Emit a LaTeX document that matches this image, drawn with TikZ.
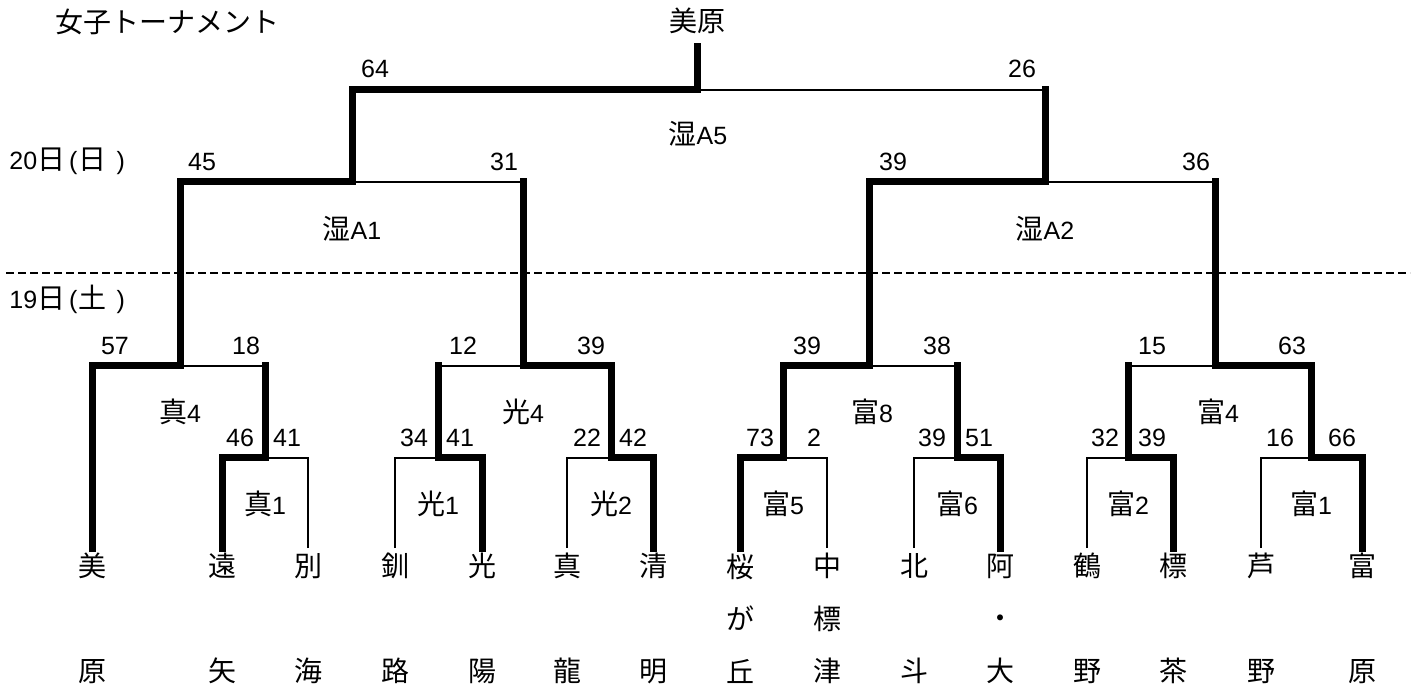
\documentclass[tikz,border=0pt]{standalone}
\usepackage{fontspec}
\setmainfont{Liberation Sans}
\newfontfamily\jp{Noto Sans CJK JP}
\usepackage{tikz}
\newcommand{\jk}[1]{{\jp\fontsize{14}{16}\selectfont #1}}

\begin{document}
\begin{tikzpicture}[x=0.5pt,y=-0.5pt,
  win/.style={black,line width=3.5pt,line cap=rect},
  lose/.style={black,line width=1.35pt},
  team/.style={font=\jp\fontsize{14}{26.25}\selectfont,align=center},
  score/.style={font=\fontsize{12.5}{14}\selectfont},
  game/.style={font=\fontsize{12.5}{14}\selectfont}]
\tikzstyle{every node}+=[inner sep=0pt]
\useasboundingbox (0,0) rectangle (1416,688);
% headings
\node[team] (title) at (167,22) {女子トーナメント};
\node[team] (champ) at (697,21) {美原};
\node[score,anchor=west] (sun) at (9,161) {20\jk{日}\hspace{2pt}(\hspace{0.5pt}\jk{日}\hspace{5pt})};
\node[score,anchor=west] (sat) at (9,299) {19\jk{日}\hspace{2pt}(\hspace{0.5pt}\jk{土}\hspace{5pt})};
\coordinate (dl) at (6,273);
\coordinate (dr) at (1410,273);
\draw [black,line width=0.75pt,dash pattern=on 4pt off 2pt] (dl) -- (dr);
% teams
\foreach \x/\a/\b/\c [count=\i] in {92/美/{}/原, 222/遠/{}/矢, 308/別/{}/海, 395/釧/{}/路,
    482/光/{}/陽, 567/真/{}/龍, 653/清/{}/明, 740/桜/が/丘, 827/中/標/津, 914/北/{}/斗,
    1000/阿/・/大, 1087/鶴/{}/野, 1173/標/{}/茶, 1261/芦/{}/野, 1362/富/{}/原}
{
  \coordinate (l\i) at (\x,548);
  \node[team] (t\i) at (\x,618.5) {\a\\\b\\\c};
}
% junctions
\coordinate (m1) at (265,458);
\coordinate (m2) at (438,458);
\coordinate (m3) at (611,458);
\coordinate (m4) at (783,458);
\coordinate (m5) at (957,458);
\coordinate (m6) at (1128,458);
\coordinate (m7) at (1311,458);
\coordinate (q1) at (180,366);
\coordinate (q2) at (523,366);
\coordinate (q3) at (869,366);
\coordinate (q4) at (1215,366);
\coordinate (s1) at (352,182);
\coordinate (s2) at (1045,182);
\coordinate (f) at (697,90);
\coordinate (top) at (697,47);
% round 1
\draw [win] (l2) |- (m1);
\draw [lose] (l3) |- (m1);
\draw [win] (l5) |- (m2);
\draw [lose] (l4) |- (m2);
\draw [win] (l7) |- (m3);
\draw [lose] (l6) |- (m3);
\draw [win] (l8) |- (m4);
\draw [lose] (l9) |- (m4);
\draw [win] (l11) |- (m5);
\draw [lose] (l10) |- (m5);
\draw [win] (l13) |- (m6);
\draw [lose] (l12) |- (m6);
\draw [win] (l15) |- (m7);
\draw [lose] (l14) |- (m7);
% round 2
\draw [win] (l1) |- (q1);
\draw [win] (m1) -- (m1 |- q1);
\draw [lose] (m1 |- q1) -- (q1);
\draw [win] (m3) |- (q2);
\draw [win] (m2) -- (m2 |- q2);
\draw [lose] (m2 |- q2) -- (q2);
\draw [win] (m4) |- (q3);
\draw [win] (m5) -- (m5 |- q3);
\draw [lose] (m5 |- q3) -- (q3);
\draw [win] (m7) |- (q4);
\draw [win] (m6) -- (m6 |- q4);
\draw [lose] (m6 |- q4) -- (q4);
% round 3
\draw [win] (q1) |- (s1);
\draw [win] (q2) -- (q2 |- s1);
\draw [lose] (q2 |- s1) -- (s1);
\draw [win] (q3) |- (s2);
\draw [win] (q4) -- (q4 |- s2);
\draw [lose] (q4 |- s2) -- (s2);
% final
\draw [win] (s1) |- (f);
\draw [win] (s2) -- (s2 |- f);
\draw [lose] (s2 |- f) -- (f);
\draw [win] (f) -- (top);
% scores
\node[score] (fL) at (375,69) {64};
\node[score] (fR) at (1022,69) {26};
\node[score] (s1L) at (202,162) {45};
\node[score] (s1R) at (504,162) {31};
\node[score] (s2L) at (893,162) {39};
\node[score] (s2R) at (1196,162) {36};
\node[score] (q1L) at (115,346) {57};
\node[score] (q1R) at (246,346) {18};
\node[score] (q2L) at (463,346) {12};
\node[score] (q2R) at (591,346) {39};
\node[score] (q3L) at (807,346) {39};
\node[score] (q3R) at (937,346) {38};
\node[score] (q4L) at (1152,346) {15};
\node[score] (q4R) at (1292,346) {63};
\node[score] (m1L) at (240,438) {46};
\node[score] (m1R) at (287,438) {41};
\node[score] (m2L) at (414,438) {34};
\node[score] (m2R) at (460,438) {41};
\node[score] (m3L) at (587,438) {22};
\node[score] (m3R) at (633,438) {42};
\node[score] (m4L) at (760,438) {73};
\node[score] (m4R) at (814,438) {2};
\node[score] (m5L) at (932,438) {39};
\node[score] (m5R) at (979,438) {51};
\node[score] (m6L) at (1105,438) {32};
\node[score] (m6R) at (1152,438) {39};
\node[score] (m7L) at (1280,438) {16};
\node[score] (m7R) at (1342,438) {66};
% match names
\node[game] (fN) at (698,134) {\jk{湿}A5};
\node[game] (s1N) at (352,229) {\jk{湿}A1};
\node[game] (s2N) at (1045,229) {\jk{湿}A2};
\node[game] (q1N) at (180,412) {\jk{真}4};
\node[game] (q2N) at (523,412) {\jk{光}4};
\node[game] (q3N) at (872,412) {\jk{富}8};
\node[game] (q4N) at (1218,412) {\jk{富}4};
\node[game] (m1N) at (265,504) {\jk{真}1};
\node[game] (m2N) at (438,504) {\jk{光}1};
\node[game] (m3N) at (611,504) {\jk{光}2};
\node[game] (m4N) at (783,504) {\jk{富}5};
\node[game] (m5N) at (957,504) {\jk{富}6};
\node[game] (m6N) at (1128,504) {\jk{富}2};
\node[game] (m7N) at (1311,504) {\jk{富}1};
\end{tikzpicture}
\end{document}
